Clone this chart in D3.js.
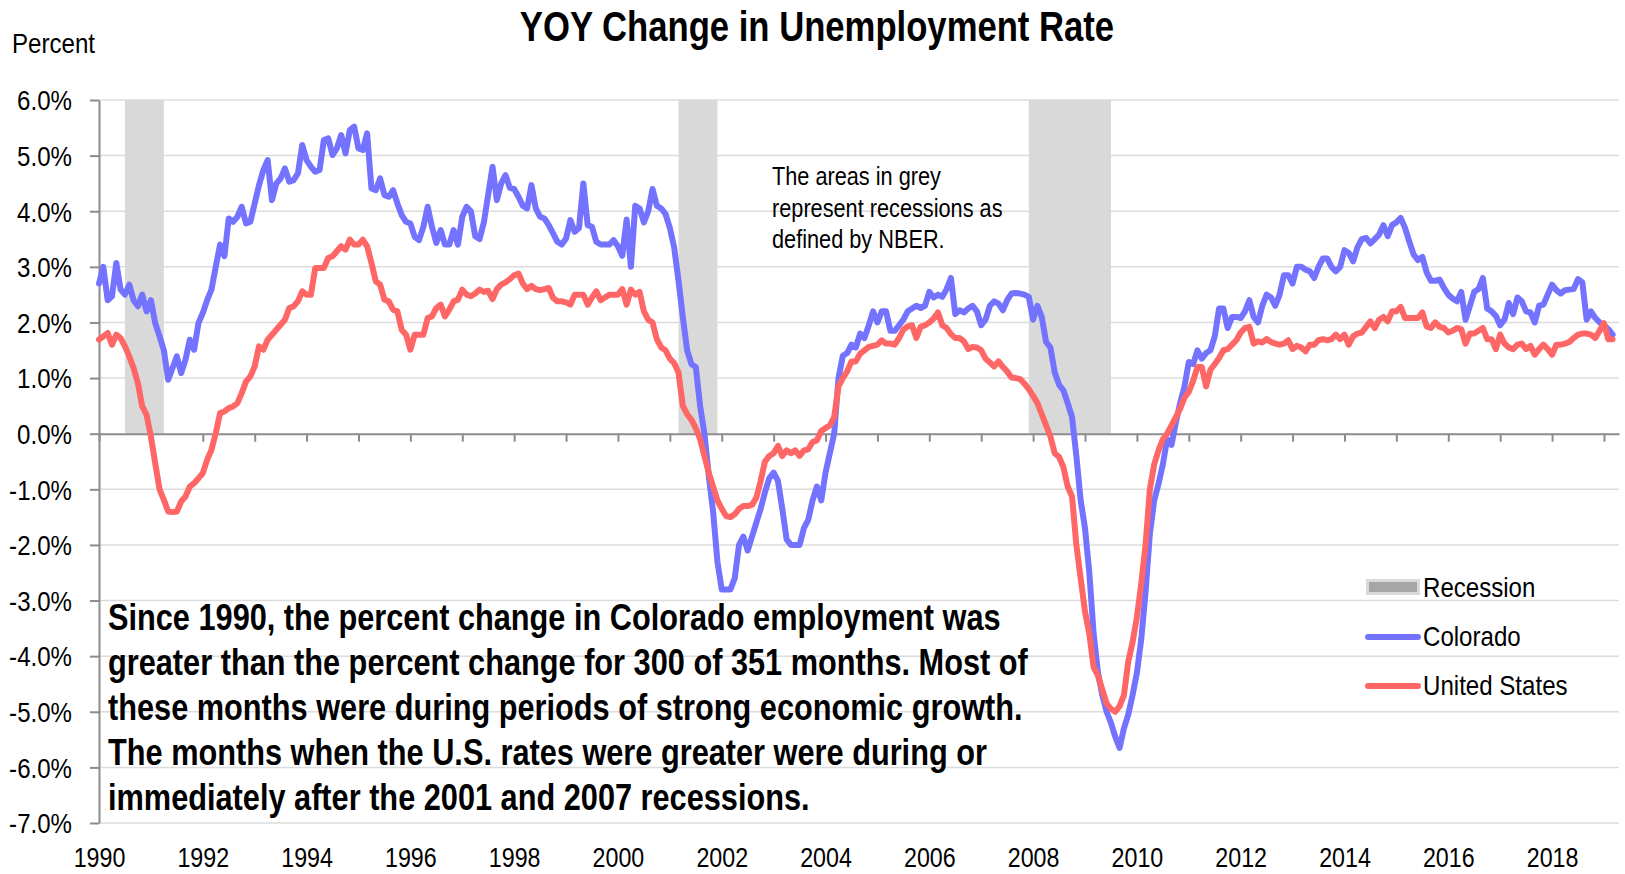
<!DOCTYPE html>
<html>
<head>
<meta charset="utf-8">
<script src="https://cdn.jsdelivr.net/npm/d3@7"></script>
<style>
  html, body { margin: 0; padding: 0; background: #fff; }
  svg { display: block; }
  text { font-family: "Liberation Sans", Arial, sans-serif; fill: #000; }
</style>
</head>
<body>
<svg id="chart" width="1625" height="874"></svg>
<script>
// YOY percent change, monthly, Jan 1990 - Mar 2019
const colorado = [
  2.7, 3.0, 2.4, 2.47, 3.07, 2.59, 2.5, 2.68, 2.4, 2.29, 2.5, 2.2,
  2.4, 1.99, 1.75, 1.5, 0.97, 1.18, 1.39, 1.09, 1.33, 1.69, 1.51, 1.99,
  2.17, 2.4, 2.59, 3.0, 3.4, 3.19, 3.87, 3.81, 3.9, 4.08, 3.78, 3.81,
  4.14, 4.47, 4.74, 4.92, 4.2, 4.5, 4.59, 4.77, 4.53, 4.56, 4.68, 5.19,
  4.92, 4.8, 4.71, 4.74, 5.28, 5.31, 5.01, 5.13, 5.37, 5.04, 5.46, 5.52,
  5.13, 5.1, 5.4, 4.41, 4.38, 4.59, 4.29, 4.26, 4.38, 4.14, 3.93, 3.81,
  3.78, 3.54, 3.48, 3.72, 4.08, 3.72, 3.43, 3.66, 3.4, 3.4, 3.66, 3.4,
  3.9, 4.08, 4.0, 3.55, 3.5, 3.8, 4.3, 4.8, 4.2, 4.5, 4.65, 4.42,
  4.4, 4.26, 4.1, 4.05, 4.47, 4.05, 3.9, 3.87, 3.75, 3.6, 3.45, 3.4,
  3.51, 3.84, 3.63, 3.7, 4.5, 3.75, 3.72, 3.45, 3.4, 3.4, 3.4, 3.48,
  3.37, 3.2, 3.85, 3.0, 4.1, 4.05, 3.8, 4.0, 4.4, 4.1, 4.05, 3.95,
  3.7, 3.35, 2.75, 2.1, 1.5, 1.25, 1.2, 0.5, 0.0, -0.75, -1.4, -2.3,
  -2.8, -2.8, -2.8, -2.6, -2.0, -1.85, -2.1, -1.85, -1.6, -1.35, -1.05, -0.8,
  -0.7, -0.85, -1.35, -1.9, -2.0, -2.0, -2.0, -1.7, -1.55, -1.2, -0.95, -1.2,
  -0.7, -0.35, 0.0, 1.0, 1.4, 1.45, 1.6, 1.55, 1.8, 1.72, 1.95, 2.2,
  2.0, 2.2, 2.2, 1.85, 1.85, 1.95, 2.05, 2.2, 2.25, 2.3, 2.26, 2.3,
  2.55, 2.45, 2.5, 2.46, 2.6, 2.8, 2.15, 2.22, 2.18, 2.25, 2.3, 2.2,
  1.95, 2.05, 2.3, 2.38, 2.34, 2.22, 2.4, 2.52, 2.53, 2.52, 2.5, 2.46,
  2.05, 2.3, 2.1, 1.65, 1.55, 1.1, 0.88, 0.78, 0.55, 0.3, -0.4, -1.2,
  -1.7, -2.5, -3.6, -4.3, -4.7, -5.0, -5.2, -5.45, -5.65, -5.3, -5.05, -4.7,
  -4.3, -3.7, -2.85, -1.8, -1.2, -0.9, -0.55, -0.1, -0.2, 0.2, 0.55, 0.85,
  1.29, 1.25, 1.5, 1.35, 1.45, 1.5, 1.75, 2.25, 2.25, 1.9, 2.1, 2.1,
  2.08, 2.2, 2.4, 2.1, 2.0, 2.3, 2.5, 2.45, 2.3, 2.5, 2.85, 2.85,
  2.7, 3.0, 3.0, 2.95, 2.92, 2.8, 3.0, 3.15, 3.15, 3.0, 2.92, 3.0,
  3.3, 3.25, 3.1, 3.35, 3.5, 3.52, 3.42, 3.5, 3.58, 3.75, 3.55, 3.75,
  3.8, 3.88, 3.7, 3.45, 3.22, 3.12, 3.18, 2.9, 2.75, 2.75, 2.77, 2.62,
  2.5, 2.43, 2.38, 2.55, 2.05, 2.3, 2.55, 2.6, 2.8, 2.25, 2.2, 2.12,
  1.95, 2.05, 2.35, 2.15, 2.45, 2.38, 2.2, 2.18, 2.0, 2.3, 2.32, 2.5,
  2.68, 2.58, 2.52, 2.58, 2.59, 2.6, 2.78, 2.72, 2.05, 2.2, 2.08, 2.0,
  1.95, 1.88, 1.78
];

const unitedStates = [
  1.69, 1.75, 1.81, 1.6, 1.78, 1.72, 1.57, 1.39, 1.18, 0.91, 0.49, 0.34,
  -0.05, -0.53, -1.0, -1.19, -1.4, -1.41, -1.4, -1.22, -1.13, -0.95, -0.89, -0.8,
  -0.71, -0.47, -0.29, 0.01, 0.37, 0.4, 0.46, 0.49, 0.55, 0.73, 0.94, 1.03,
  1.21, 1.57, 1.51, 1.69, 1.78, 1.87, 1.96, 2.05, 2.26, 2.29, 2.38, 2.56,
  2.5, 2.5, 2.98, 2.98, 2.98, 3.16, 3.19, 3.28, 3.37, 3.31, 3.49, 3.4,
  3.4, 3.49, 3.37, 3.07, 2.74, 2.68, 2.41, 2.38, 2.23, 2.2, 1.87, 1.78,
  1.51, 1.78, 1.78, 1.78, 2.08, 2.11, 2.26, 2.32, 2.11, 2.23, 2.38, 2.41,
  2.59, 2.5, 2.47, 2.52, 2.59, 2.55, 2.57, 2.42, 2.6, 2.68, 2.72, 2.78,
  2.85, 2.88, 2.7, 2.6, 2.66, 2.6, 2.58, 2.6, 2.62, 2.44, 2.38, 2.38,
  2.36, 2.32, 2.5, 2.5, 2.5, 2.32, 2.45, 2.56, 2.4, 2.45, 2.5, 2.5,
  2.5, 2.6, 2.32, 2.59, 2.5, 2.55, 2.2, 2.05, 2.0, 1.7, 1.55, 1.5,
  1.35, 1.27, 1.1, 0.5, 0.35, 0.25, 0.1, -0.1, -0.4, -0.7, -0.95, -1.2,
  -1.35, -1.48, -1.5, -1.45, -1.35, -1.3, -1.3, -1.28, -1.15, -0.85, -0.5, -0.4,
  -0.35, -0.22, -0.4, -0.3, -0.35, -0.3, -0.4, -0.3, -0.28, -0.15, -0.12, 0.05,
  0.1, 0.15, 0.3, 0.85, 1.0, 1.12, 1.3, 1.3, 1.44, 1.5, 1.56, 1.58,
  1.6, 1.68, 1.62, 1.62, 1.6, 1.72, 1.87, 1.93, 1.95, 1.72, 1.92, 1.95,
  2.0, 2.07, 2.18, 1.95, 1.9, 1.79, 1.72, 1.72, 1.66, 1.52, 1.56, 1.55,
  1.5, 1.35, 1.28, 1.21, 1.3, 1.2, 1.12, 1.01, 1.0, 0.98, 0.9, 0.8,
  0.68, 0.55, 0.35, 0.15, -0.05, -0.35, -0.42, -0.6, -0.95, -1.13, -2.0, -2.6,
  -3.2, -3.6, -4.2, -4.35, -4.6, -4.85, -4.95, -5.0, -4.9, -4.7, -4.1, -3.75,
  -3.3, -2.7, -2.0, -1.0, -0.55, -0.3, -0.1, 0.0, 0.15, 0.3, 0.45, 0.65,
  0.75, 0.95, 1.2, 1.2, 0.85, 1.15, 1.25, 1.36, 1.5, 1.52, 1.6, 1.68,
  1.82, 1.9, 1.92, 1.62, 1.66, 1.64, 1.7, 1.65, 1.62, 1.6, 1.62, 1.68,
  1.52, 1.58, 1.55, 1.48, 1.6, 1.6, 1.68, 1.7, 1.68, 1.7, 1.78, 1.7,
  1.78, 1.6, 1.75, 1.8, 1.82, 1.92, 2.02, 1.9, 2.05, 2.1, 2.02, 2.2,
  2.2, 2.28, 2.08, 2.08, 2.08, 2.08, 2.18, 1.93, 1.9, 2.0, 1.92, 1.9,
  1.82, 1.85, 1.9, 1.88, 1.62, 1.8, 1.8, 1.85, 1.9, 1.7, 1.7, 1.52,
  1.78, 1.62, 1.55, 1.52, 1.6, 1.62, 1.52, 1.58, 1.42, 1.52, 1.6, 1.52,
  1.42, 1.6, 1.6, 1.62, 1.65, 1.72, 1.78, 1.8, 1.8, 1.78, 1.72, 1.85,
  1.99, 1.7, 1.7
];

// NBER recessions, first and last month
const recessions = [
  ["1990-07", "1991-03"],
  ["2001-03", "2001-11"],
  ["2007-12", "2009-06"]
];

const yTicks = [-7, -6, -5, -4, -3, -2, -1, 0, 1, 2, 3, 4, 5, 6];
const yearTicks = [1990, 1991, 1992, 1993, 1994, 1995, 1996, 1997, 1998, 1999,
  2000, 2001, 2002, 2003, 2004, 2005, 2006, 2007, 2008, 2009,
  2010, 2011, 2012, 2013, 2014, 2015, 2016, 2017, 2018, 2019];
const yearLabels = [1990, 1992, 1994, 1996, 1998, 2000, 2002, 2004, 2006, 2008,
  2010, 2012, 2014, 2016, 2018];

const noteLines = ["The areas in grey", "represent recessions as", "defined by NBER."];
const summaryLines = [
  "Since 1990, the percent change in Colorado employment was",
  "greater than the percent change for 300 of 351 months. Most of",
  "these months were during periods of strong economic growth.",
  "The months when the U.S. rates were greater were during or",
  "immediately after the 2001 and 2007 recessions."
];

const startYear = 1990;
const blue = "#7373ff";
const red = "#ff6666";

const svg = d3.select("#chart");
const margin = { top: 100, right: 6, bottom: 51, left: 99 };
const width = 1625, height = 874;

// squeeze Arial-metric text to an Arial Narrow look
function narrow(sel, k = 0.86) {
  sel.each(function () {
    const w = this.getComputedTextLength();
    if (w > 0) {
      this.setAttribute("textLength", (w * k).toFixed(1));
      this.setAttribute("lengthAdjust", "spacingAndGlyphs");
    }
  });
}

const x = d3.scaleLinear()
  .domain([1990, 2019.29])
  .range([margin.left, width - margin.right]);

const y = d3.scaleLinear()
  .domain([-7, 6])
  .range([height - margin.bottom, margin.top]);

const monthToYear = s => +s.slice(0, 4) + (+s.slice(5, 7) - 1) / 12;

// gridlines
svg.append("g")
  .selectAll("line")
  .data(yTicks.filter(d => d !== 0))
  .join("line")
  .attr("x1", x(1990))
  .attr("x2", x.range()[1])
  .attr("y1", d => y(d))
  .attr("y2", d => y(d))
  .attr("stroke", "#dcdcdc")
  .attr("stroke-width", 1.5);

// recession bands
svg.append("g")
  .selectAll("rect")
  .data(recessions)
  .join("rect")
  .attr("x", d => x(monthToYear(d[0])))
  .attr("width", d => x(monthToYear(d[1]) + 1 / 12) - x(monthToYear(d[0])))
  .attr("y", y(6))
  .attr("height", y(0) - y(6))
  .attr("fill", "#d9d9d9");

// y axis
const yAxis = svg.append("g")
  .attr("transform", `translate(${margin.left},0)`)
  .call(d3.axisLeft(y).tickValues(yTicks).tickSize(9).tickSizeOuter(0)
    .tickPadding(18).tickFormat(d => d.toFixed(1) + "%"));
yAxis.select(".domain").attr("stroke", "#8c8c8c").attr("stroke-width", 2);
yAxis.selectAll(".tick line").attr("stroke", "#8c8c8c").attr("stroke-width", 2);
yAxis.selectAll(".tick text")
  .attr("font-size", 28)
  .attr("font-family", null)
  .attr("dy", "0.35em")
  .call(narrow);

// x axis along zero line
const xAxis = svg.append("g")
  .attr("transform", `translate(0,${y(0)})`)
  .call(d3.axisBottom(x).tickValues(yearTicks).tickSize(8).tickSizeOuter(0).tickFormat(""));
xAxis.select(".domain").attr("stroke", "#8c8c8c").attr("stroke-width", 2);
xAxis.selectAll(".tick line").attr("stroke", "#8c8c8c").attr("stroke-width", 2);

// year labels at the bottom
const xLabels = svg.append("g")
  .attr("transform", `translate(0,${y(-7)})`)
  .call(d3.axisBottom(x).tickValues(yearLabels).tickSize(0).tickPadding(24).tickFormat(d3.format("d")));
xLabels.select(".domain").remove();
xLabels.selectAll(".tick text").attr("font-size", 28).attr("font-family", null).call(narrow, 0.83);

// lines
const line = d3.line()
  .x((d, i) => x(startYear + i / 12))
  .y(d => y(d));

svg.append("path")
  .datum(colorado)
  .attr("d", line)
  .attr("fill", "none")
  .attr("stroke", blue)
  .attr("stroke-width", 6)
  .attr("stroke-linejoin", "round")
  .attr("stroke-linecap", "round");

svg.append("path")
  .datum(unitedStates)
  .attr("d", line)
  .attr("fill", "none")
  .attr("stroke", red)
  .attr("stroke-width", 6)
  .attr("stroke-linejoin", "round")
  .attr("stroke-linecap", "round");

// title and axis caption
svg.append("text")
  .attr("x", 817)
  .attr("y", 41)
  .attr("text-anchor", "middle")
  .attr("font-size", 42)
  .attr("font-weight", "bold")
  .text("YOY Change in Unemployment Rate")
  .call(narrow, 0.825);

svg.append("text")
  .attr("x", 12)
  .attr("y", 53)
  .attr("font-size", 28)
  .text("Percent")
  .call(narrow);

// recession note
svg.append("g")
  .selectAll("text")
  .data(noteLines)
  .join("text")
  .attr("x", 772)
  .attr("y", (d, i) => 185 + i * 31.6)
  .attr("font-size", 26)
  .text(d => d)
  .call(narrow, 0.835);

// summary note
svg.append("g")
  .selectAll("text")
  .data(summaryLines)
  .join("text")
  .attr("x", 108)
  .attr("y", (d, i) => 630 + i * 45)
  .attr("font-size", 37)
  .attr("font-weight", "bold")
  .text(d => d)
  .call(narrow, 0.83);

// legend
const legend = svg.append("g").attr("transform", "translate(1366,0)");
legend.append("rect")
  .attr("x", 1.5).attr("y", 580.5).attr("width", 51).attr("height", 13)
  .attr("fill", "#a6a6a6").attr("stroke", "#dadada").attr("stroke-width", 3);
legend.append("text").attr("x", 57).attr("y", 597).attr("font-size", 28).text("Recession").call(narrow);

const legendSeries = [["Colorado", blue, 637, 646], ["United States", red, 686, 695]];
legend.selectAll(".ls")
  .data(legendSeries)
  .join("line")
  .attr("x1", 2).attr("x2", 52)
  .attr("y1", d => d[2]).attr("y2", d => d[2])
  .attr("stroke", d => d[1]).attr("stroke-width", 6).attr("stroke-linecap", "round");
legend.selectAll(".lt")
  .data(legendSeries)
  .join("text")
  .attr("x", 57).attr("y", d => d[3]).attr("font-size", 28)
  .text(d => d[0])
  .call(narrow);
</script>
</body>
</html>
